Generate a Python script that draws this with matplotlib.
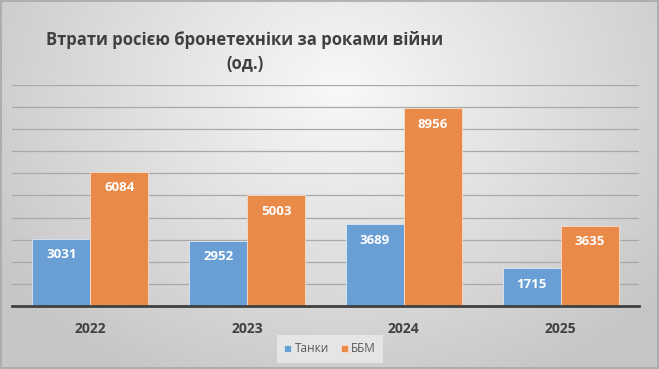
import matplotlib.pyplot as plt
import numpy as np

years = ['2022', '2023', '2024', '2025']
tanks = [3031, 2952, 3689, 1715]
bbm = [6084, 5003, 8956, 3635]

plt.rcParams['font.family'] = ['Open Sans', 'DejaVu Sans']

fig = plt.figure(figsize=(6.59, 3.69), dpi=100)

# radial grey background
bg = fig.add_axes([0, 0, 1, 1], zorder=-5)
yy, xx = np.mgrid[0:369, 0:659]
r = np.sqrt(((xx - 340) / 420.0) ** 2 + ((yy - 90) / 330.0) ** 2)
shade = np.clip(0.975 - 0.2 * r, 0.78, 0.975)
bg.imshow(np.dstack([shade] * 3), aspect='auto', extent=[0, 1, 0, 1])
bg.set_xlim(0, 1)
bg.set_ylim(0, 1)
bg.axis('off')
bg.add_patch(plt.Rectangle((0.001, 0.002), 0.997, 0.995, fill=False,
                           ec='#a8a8a8', lw=1.2, transform=bg.transAxes))

ax = fig.add_axes([12 / 659, 1 - 306 / 369, 627 / 659, 221 / 369])
ax.patch.set_alpha(0)
x = np.arange(len(years))
w = 0.37
b1 = ax.bar(x - w / 2, tanks, w, color='#6a9fd5', edgecolor='#dfe8f2', lw=0.6,
            label='Танки', zorder=3)
b2 = ax.bar(x + w / 2, bbm, w, color='#e98a48', edgecolor='#f6dccb', lw=0.6,
            label='ББМ', zorder=3)

for bars in (b1, b2):
    for b in bars:
        ax.annotate(str(int(b.get_height())),
                    (b.get_x() + b.get_width() / 2, b.get_height()),
                    xytext=(0, -11.5), textcoords='offset points',
                    ha='center', va='center', color='white',
                    fontsize=9.5, fontweight='bold', zorder=4)

ax.set_xlim(-0.5, 3.5)
ax.set_ylim(0, 10000)
ax.set_yticks(range(0, 10001, 1000))
ax.yaxis.grid(True, color='#a9a9a9', lw=0.9, zorder=0)
ax.tick_params(axis='y', left=False, labelleft=False)
ax.tick_params(axis='x', bottom=False, pad=8)
ax.set_xticks(x)
ax.set_xticklabels(years, fontsize=10, fontweight='bold', color='#404040')
for s in ['left', 'right', 'top']:
    ax.spines[s].set_visible(False)
ax.spines['bottom'].set_color('#404040')
ax.spines['bottom'].set_linewidth(2)
ax.spines['bottom'].set_zorder(5)

fig.text(245 / 659, 1 - 52 / 369, 'Втрати росією бронетехніки за роками війни\n(од.)',
         ha='center', va='center', multialignment='center', fontsize=12,
         fontweight='bold', color='#404040', linespacing=1.45)

leg = fig.legend(loc='center', bbox_to_anchor=(330 / 659, 1 - 349 / 369), ncol=2,
                 fontsize=8.5, frameon=True, handlelength=0.6, handleheight=0.6,
                 handletextpad=0.3, columnspacing=1.0, borderpad=0.3)
leg.get_frame().set_facecolor('#ebebeb')
leg.get_frame().set_edgecolor('none')
leg.get_frame().set_boxstyle('square')
for t in leg.get_texts():
    t.set_color('#595959')

fig.savefig('out.png', dpi=100)
